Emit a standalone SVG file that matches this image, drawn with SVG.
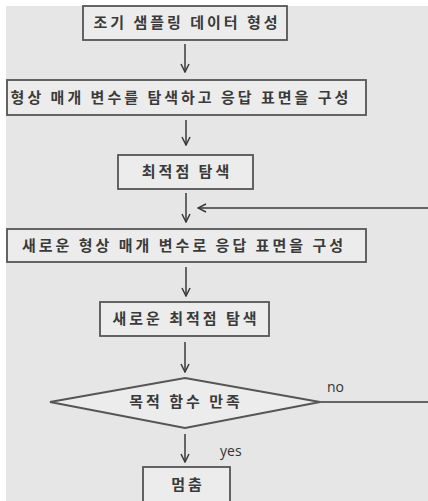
<svg xmlns="http://www.w3.org/2000/svg" width="428" height="501" viewBox="0 0 428 501">
<defs>
<marker id="ah" markerWidth="10" markerHeight="10" refX="9" refY="5" orient="auto" markerUnits="userSpaceOnUse">
<path d="M1,1 L9,5 L1,9" fill="none" stroke="#3a3a3a" stroke-width="1.5"/>
</marker>
<style>
.box{fill:#ececec;stroke:#555;stroke-width:1.8}
.t{font-family:"Noto Sans CJK KR","Noto Sans",sans-serif;font-size:15px;fill:#3a3a3a;text-anchor:middle;letter-spacing:3px;font-weight:bold}
.lbl{font-family:"Open Sans","Liberation Sans",sans-serif;font-size:14px;fill:#333}
.c{fill:none;stroke:#3a3a3a;stroke-width:1.5}
</style>
</defs>
<rect x="0" y="0" width="428" height="501" fill="#ffffff"/>
<rect x="6" y="6" width="422" height="495" fill="#e6e6e6"/>
<g id="n1"><rect class="box" x="83" y="6" width="204" height="34"/><text class="t" x="187" y="28">조기 샘플링 데이터 형성</text></g>
<g id="n2"><rect class="box" x="7" y="80" width="359" height="35"/><text class="t" x="181" y="103">형상 매개 변수를 탐색하고 응답 표면을 구성</text></g>
<g id="n3"><rect class="box" x="118" y="155" width="135" height="34"/><text class="t" x="187" y="177">최적점 탐색</text></g>
<g id="n4"><rect class="box" x="7" y="229" width="359" height="33"/><text class="t" x="184" y="251">새로운 형상 매개 변수로 응답 표면을 구성</text></g>
<g id="n5"><rect class="box" x="100" y="302" width="169" height="34"/><text class="t" x="186" y="324">새로운 최적점 탐색</text></g>
<g id="n6"><polygon class="box" points="50,402 185,378 320,402 185,428"/><text class="t" x="186" y="407">목적 함수 만족</text></g>
<g id="n7"><rect class="box" x="143" y="467" width="87" height="40"/><text class="t" x="188" y="490">멈춤</text></g>
<g id="connectors">
<line class="c" x1="185" y1="44" x2="185" y2="72" marker-end="url(#ah)"/>
<line class="c" x1="186" y1="120" x2="186" y2="145" marker-end="url(#ah)"/>
<line class="c" x1="186" y1="193" x2="186" y2="222" marker-end="url(#ah)"/>
<line class="c" x1="428" y1="208" x2="198" y2="208" marker-end="url(#ah)"/>
<line class="c" x1="186" y1="267" x2="186" y2="296" marker-end="url(#ah)"/>
<line class="c" x1="185" y1="342" x2="185" y2="372" marker-end="url(#ah)"/>
<line class="c" x1="320" y1="402" x2="428" y2="402"/>
<line class="c" x1="185" y1="434" x2="185" y2="462" marker-end="url(#ah)"/>
<text class="lbl" x="327" y="392">no</text>
<text class="lbl" x="220" y="456">yes</text>
</g>
</svg>
